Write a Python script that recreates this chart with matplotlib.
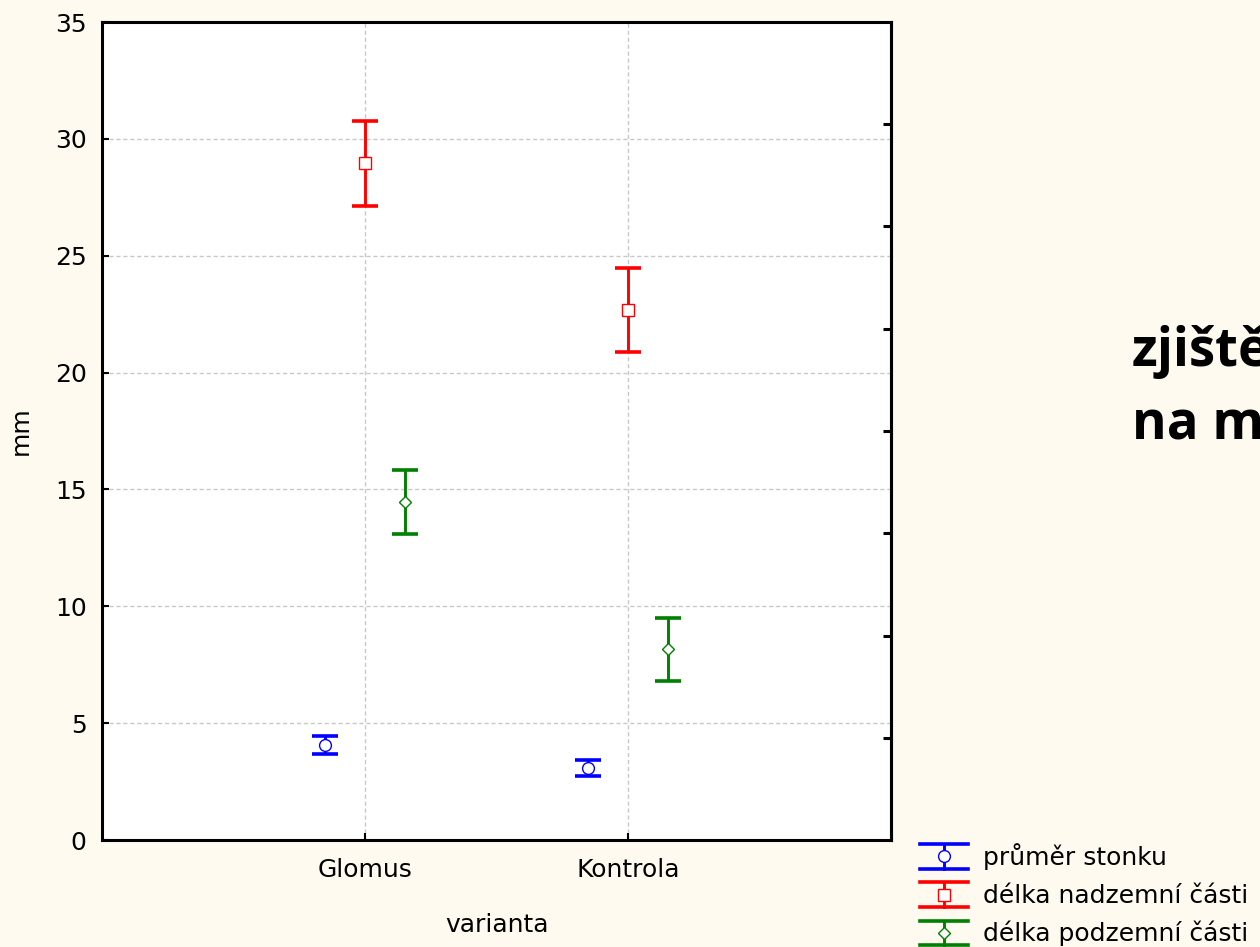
import matplotlib
matplotlib.use("Agg")
import matplotlib.pyplot as plt
from matplotlib.lines import Line2D
from matplotlib.legend_handler import HandlerBase
from matplotlib.container import ErrorbarContainer

# ---- data ----
categories = ["Glomus", "Kontrola"]
series_names = ["průměr stonku", "délka nadzemní části", "délka podzemní části"]
mean_stonek = [4.07, 3.09]
err_stonek = [0.37, 0.35]
mean_nadzemni = [28.95, 22.66]
err_nadzemni = [1.82, 1.80]
mean_podzemni = [14.45, 8.17]
err_podzemni = [1.37, 1.35]
y_ticks = [0, 5, 10, 15, 20, 25, 30, 35]

means = [mean_stonek, mean_nadzemni, mean_podzemni]
errs = [err_stonek, err_nadzemni, err_podzemni]
colors = ["#0000FF", "#FF0000", "#008000"]
markers = ["o", "s", "D"]
msizes = [8.5, 8.5, 6.5]
offsets = [-0.152, 0.0, 0.152]

BG = "#FEFAEF"
plt.rcParams["font.family"] = ["DejaVu Sans"]

fig = plt.figure(figsize=(12.6, 9.47), dpi=100, facecolor=BG)
W, H = 1260, 947
ax = fig.add_axes([102 / W, 1 - 840 / H, (891 - 102) / W, (840 - 22) / H])
ax.set_facecolor("white")

xs = list(range(len(categories)))
containers = []
for m, e, c, mk, ms, off, name in zip(means, errs, colors, markers, msizes, offsets, series_names):
    cont = ax.errorbar([x + off for x in xs], m, yerr=e, fmt=mk, color=c, ms=ms,
                       mfc="white", mec=c, ecolor=c, elinewidth=2.1,
                       capsize=9.5, capthick=2.6, label=name, zorder=3)
    cont.lines[0].set_markeredgewidth(1.0)
    containers.append(cont)

ax.set_xlim(-1, 2)
ax.set_ylim(0, 35)
ax.set_xticks(xs)
ax.set_xticklabels(categories)
ax.set_yticks(y_ticks)
ax.tick_params(axis="both", direction="in", length=5, width=1.5, labelsize=18,
               colors="black", top=False, right=False)
ax.tick_params(axis="x", pad=13)
ax.tick_params(axis="y", pad=11)
ax.grid(True, color="#C8C8C8", linestyle=(0, (3, 2)), linewidth=1.0, zorder=0)
ax.set_axisbelow(True)
for s in ax.spines.values():
    s.set_linewidth(2.2)
    s.set_color("black")

ax.set_ylabel("mm", fontsize=18, labelpad=16)
ax.set_xlabel("varianta", fontsize=18, labelpad=22)

# right side inner ticks (statistica-style frame)
ax2 = ax.twinx()
ax2.set_ylim(0, 8)
ax2.set_yticks(range(1, 8))
ax2.tick_params(axis="y", direction="in", length=6, width=2.2, labelright=False)
ax2.spines["right"].set_linewidth(2.2)


class CapHandler(HandlerBase):
    def create_artists(self, legend, orig_handle, xdescent, ydescent, width, height, fontsize, trans):
        line = orig_handle.lines[0]
        color = line.get_color()
        x0, x1 = -xdescent, width - xdescent
        y0, y1 = -ydescent, height - ydescent
        xm, ym = (x0 + x1) / 2, (y0 + y1) / 2
        vert = Line2D([xm, xm], [y0, y1], color=color, lw=2.1)
        top = Line2D([x0, x1], [y1, y1], color=color, lw=2.6)
        bot = Line2D([x0, x1], [y0, y0], color=color, lw=2.6)
        mk = Line2D([xm], [ym], marker=line.get_marker(), ms=line.get_markersize(),
                    mfc="white", mec=color, mew=1.0, linestyle="none")
        arts = [vert, top, bot, mk]
        for a in arts:
            a.set_transform(trans)
        return arts


fs_leg = 18
fig.legend(containers, series_names, loc="upper left",
           bbox_to_anchor=(920 / W, 1 - 843 / H), frameon=False,
           fontsize=fs_leg, borderpad=0, borderaxespad=0,
           handlelength=1.92, handleheight=1.12, labelspacing=0.5, handletextpad=0.6,
           handler_map={ErrorbarContainer: CapHandler()})

title_font = ["Open Sans", "DejaVu Sans"]
fig.text(1132 / W, 1 - 366 / H, "zjištěné", fontsize=38, fontweight="bold",
         family=title_font, va="baseline", ha="left")
fig.text(1132 / W, 1 - 439 / H, "na mm", fontsize=38, fontweight="bold",
         family=title_font, va="baseline", ha="left")

fig.savefig("out.png", dpi=100, facecolor=BG)
